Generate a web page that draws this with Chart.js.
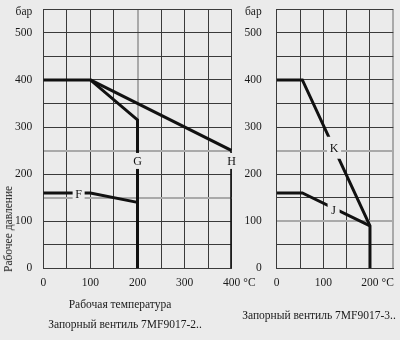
<!DOCTYPE html>
<html>
<head>
<meta charset="utf-8">
<script src="https://cdn.jsdelivr.net/npm/chart.js@4/dist/chart.umd.min.js"></script>
<style>
  html, body { margin: 0; background: #ebebeb; }
  body {
    width: 400px; height: 340px; position: relative; overflow: hidden;
    font-family: "Liberation Serif", "DejaVu Serif", serif; color: #1a1a1a;
  }
  canvas { position: absolute; top: 0; }
  #chart-left { left: 0; }
  #chart-right { left: 236px; }
  .caption {
    position: absolute; font-size: 11.5px; line-height: 12px;
    white-space: nowrap; transform: translate(-50%, -50%);
  }
  .caption.vertical { transform: translate(-50%, -50%) rotate(-90deg); }
</style>
</head>
<body>
<canvas id="chart-left" width="260" height="340" style="width:260px;height:340px"></canvas>
<canvas id="chart-right" width="164" height="340" style="width:164px;height:340px"></canvas>

<div class="caption vertical" style="left:8px;top:229px">Рабочее давление</div>
<div class="caption" style="left:120px;top:304px">Рабочая температура</div>
<div class="caption" style="left:125px;top:324px">Запорный вентиль 7MF9017-2..</div>
<div class="caption" style="left:319px;top:315px">Запорный вентиль 7MF9017-3..</div>

<script>
// pressure (bar) vs temperature (°C) curves
const curveGx = [0, 100, 200, 200];
const curveGy = [400, 400, 315, 0];
const curveHx = [100, 400, 400];
const curveHy = [400, 250, 0];
const curveFx = [0, 100, 200];
const curveFy = [160, 160, 140];

const curveKx = [0, 55, 200, 200];
const curveKy = [400, 400, 90, 0];
const curveJx = [0, 55, 200];
const curveJy = [160, 160, 90];

// curve letters and where they sit
const leftTags = ["F", "G", "H"];
const leftTagX = [75, 200, 400];
const leftTagY = [158, 228, 228];
const rightTags = ["K", "J"];
const rightTagX = [123, 122];
const rightTagY = [256, 125];

// axis ranges and ticks
const pressureMax = 550;
const pressureStep = 50;
const pressureUnit = "бар";
const leftTempMax = 400;
const rightTempMax = 250;
const tempStep = 50;
const tempUnit = "°C";

const BG = "#ebebeb";
const INK = "#111";
const TEXT = "#1a1a1a";
const GRID = "#3a3a3a";
const GRID_LIGHT = "#a9a9a9";
const FONT = '"Liberation Serif", "DejaVu Serif", serif';
const TICK_SIZE = 11.5;
const TICK_PAD = 8;

// knockout box behind each letter: [width, height]
const tagBoxes = { F: [12, 12], G: [12, 16], H: [12, 16], K: [14, 22], J: [12, 12] };

function points(xs, ys) {
  return xs.map((x, i) => ({ x, y: ys[i] }));
}

function curve(xs, ys) {
  return {
    data: points(xs, ys),
    borderColor: INK,
    borderWidth: 3,
    borderCapStyle: "butt",
    pointRadius: 0,
    fill: false,
    tension: 0,
  };
}

function gridStyle(lightValues) {
  const isLight = (c) => c.tick && lightValues.includes(c.tick.value);
  return {
    drawTicks: false,
    color: (c) => (isLight(c) ? GRID_LIGHT : GRID),
    lineWidth: (c) => (isLight(c) ? 2 : 1),
  };
}

const tagPlugin = {
  id: "curveTags",
  afterDatasetsDraw(chart, args, opts) {
    const { ctx, scales } = chart;
    ctx.save();
    ctx.font = `12px ${FONT}`;
    ctx.textAlign = "center";
    ctx.textBaseline = "middle";
    opts.names.forEach((name, i) => {
      const px = scales.x.getPixelForValue(opts.xs[i]);
      const py = scales.y.getPixelForValue(opts.ys[i]);
      const [w, h] = tagBoxes[name];
      ctx.fillStyle = BG;
      ctx.fillRect(px - w / 2, py - h / 2, w, h);
      ctx.fillStyle = INK;
      ctx.fillText(name, px, py + 1);
    });
    ctx.restore();
  },
};

// unit captions: "бар" over the pressure ticks, "°C" after the last temperature
const unitPlugin = {
  id: "units",
  afterDraw(chart, args, opts) {
    const { ctx } = chart;
    const { x, y } = chart.scales;
    ctx.save();
    ctx.font = `${TICK_SIZE}px ${FONT}`;
    ctx.fillStyle = TEXT;
    ctx.textBaseline = "middle";

    const px = x.getPixelForValue(opts.at);
    const half = ctx.measureText(String(opts.at)).width / 2;
    ctx.textAlign = "left";
    ctx.fillText(tempUnit, px + half + 3, x.top + TICK_PAD + TICK_SIZE * 0.6);

    ctx.textAlign = "right";
    ctx.fillText(pressureUnit, y.right - opts.yPad, y.getPixelForValue(pressureMax) + 3);
    ctx.restore();
  },
};

function buildChart(canvasId, opt) {
  return new Chart(document.getElementById(canvasId), {
    type: "line",
    data: { datasets: opt.curves },
    options: {
      responsive: false,
      animation: false,
      layout: { padding: opt.padding },
      plugins: {
        legend: { display: false },
        tooltip: { enabled: false },
        curveTags: opt.tags,
        units: { at: opt.unitAt, yPad: opt.yPad },
      },
      scales: {
        x: {
          type: "linear",
          min: 0,
          max: opt.tempMax,
          ticks: {
            stepSize: tempStep,
            padding: TICK_PAD,
            maxRotation: 0,
            autoSkip: false,
            color: TEXT,
            font: { family: FONT, size: TICK_SIZE },
            callback: (v) => (v % 100 === 0 ? String(v) : ""),
          },
          grid: gridStyle(opt.lightX),
          border: { color: GRID, width: 1 },
          afterFit(scale) {
            scale.height = 71.7;
            scale.paddingLeft = 0;
            scale.paddingRight = 0;
          },
        },
        y: {
          type: "linear",
          min: 0,
          max: pressureMax,
          ticks: {
            stepSize: pressureStep,
            padding: opt.yPad,
            autoSkip: false,
            color: TEXT,
            font: { family: FONT, size: TICK_SIZE },
            callback: (v) => (v % 100 === 0 && v < pressureMax ? String(v) : ""),
          },
          grid: gridStyle(opt.lightY),
          border: { color: GRID, width: 1 },
          afterFit(scale) {
            scale.width = opt.yWidth;
            scale.paddingTop = 0;
            scale.paddingBottom = 0;
          },
        },
      },
    },
    plugins: [tagPlugin, unitPlugin],
  });
}

buildChart("chart-left", {
  curves: [curve(curveGx, curveGy), curve(curveHx, curveHy), curve(curveFx, curveFy)],
  tags: { names: leftTags, xs: leftTagX, ys: leftTagY },
  tempMax: leftTempMax,
  unitAt: leftTempMax,
  lightX: [200],
  lightY: [150, 250],
  yWidth: 43.3,
  yPad: 11,
  padding: { top: 9.3, right: 28.3, bottom: 0, left: 0 },
});

buildChart("chart-right", {
  curves: [curve(curveKx, curveKy), curve(curveJx, curveJy)],
  tags: { names: rightTags, xs: rightTagX, ys: rightTagY },
  tempMax: rightTempMax,
  unitAt: 200,
  lightX: [250],
  lightY: [100, 250],
  yWidth: 40.7,
  yPad: 15,
  padding: { top: 9.3, right: 6.7, bottom: 0, left: 0 },
});
</script>
</body>
</html>
